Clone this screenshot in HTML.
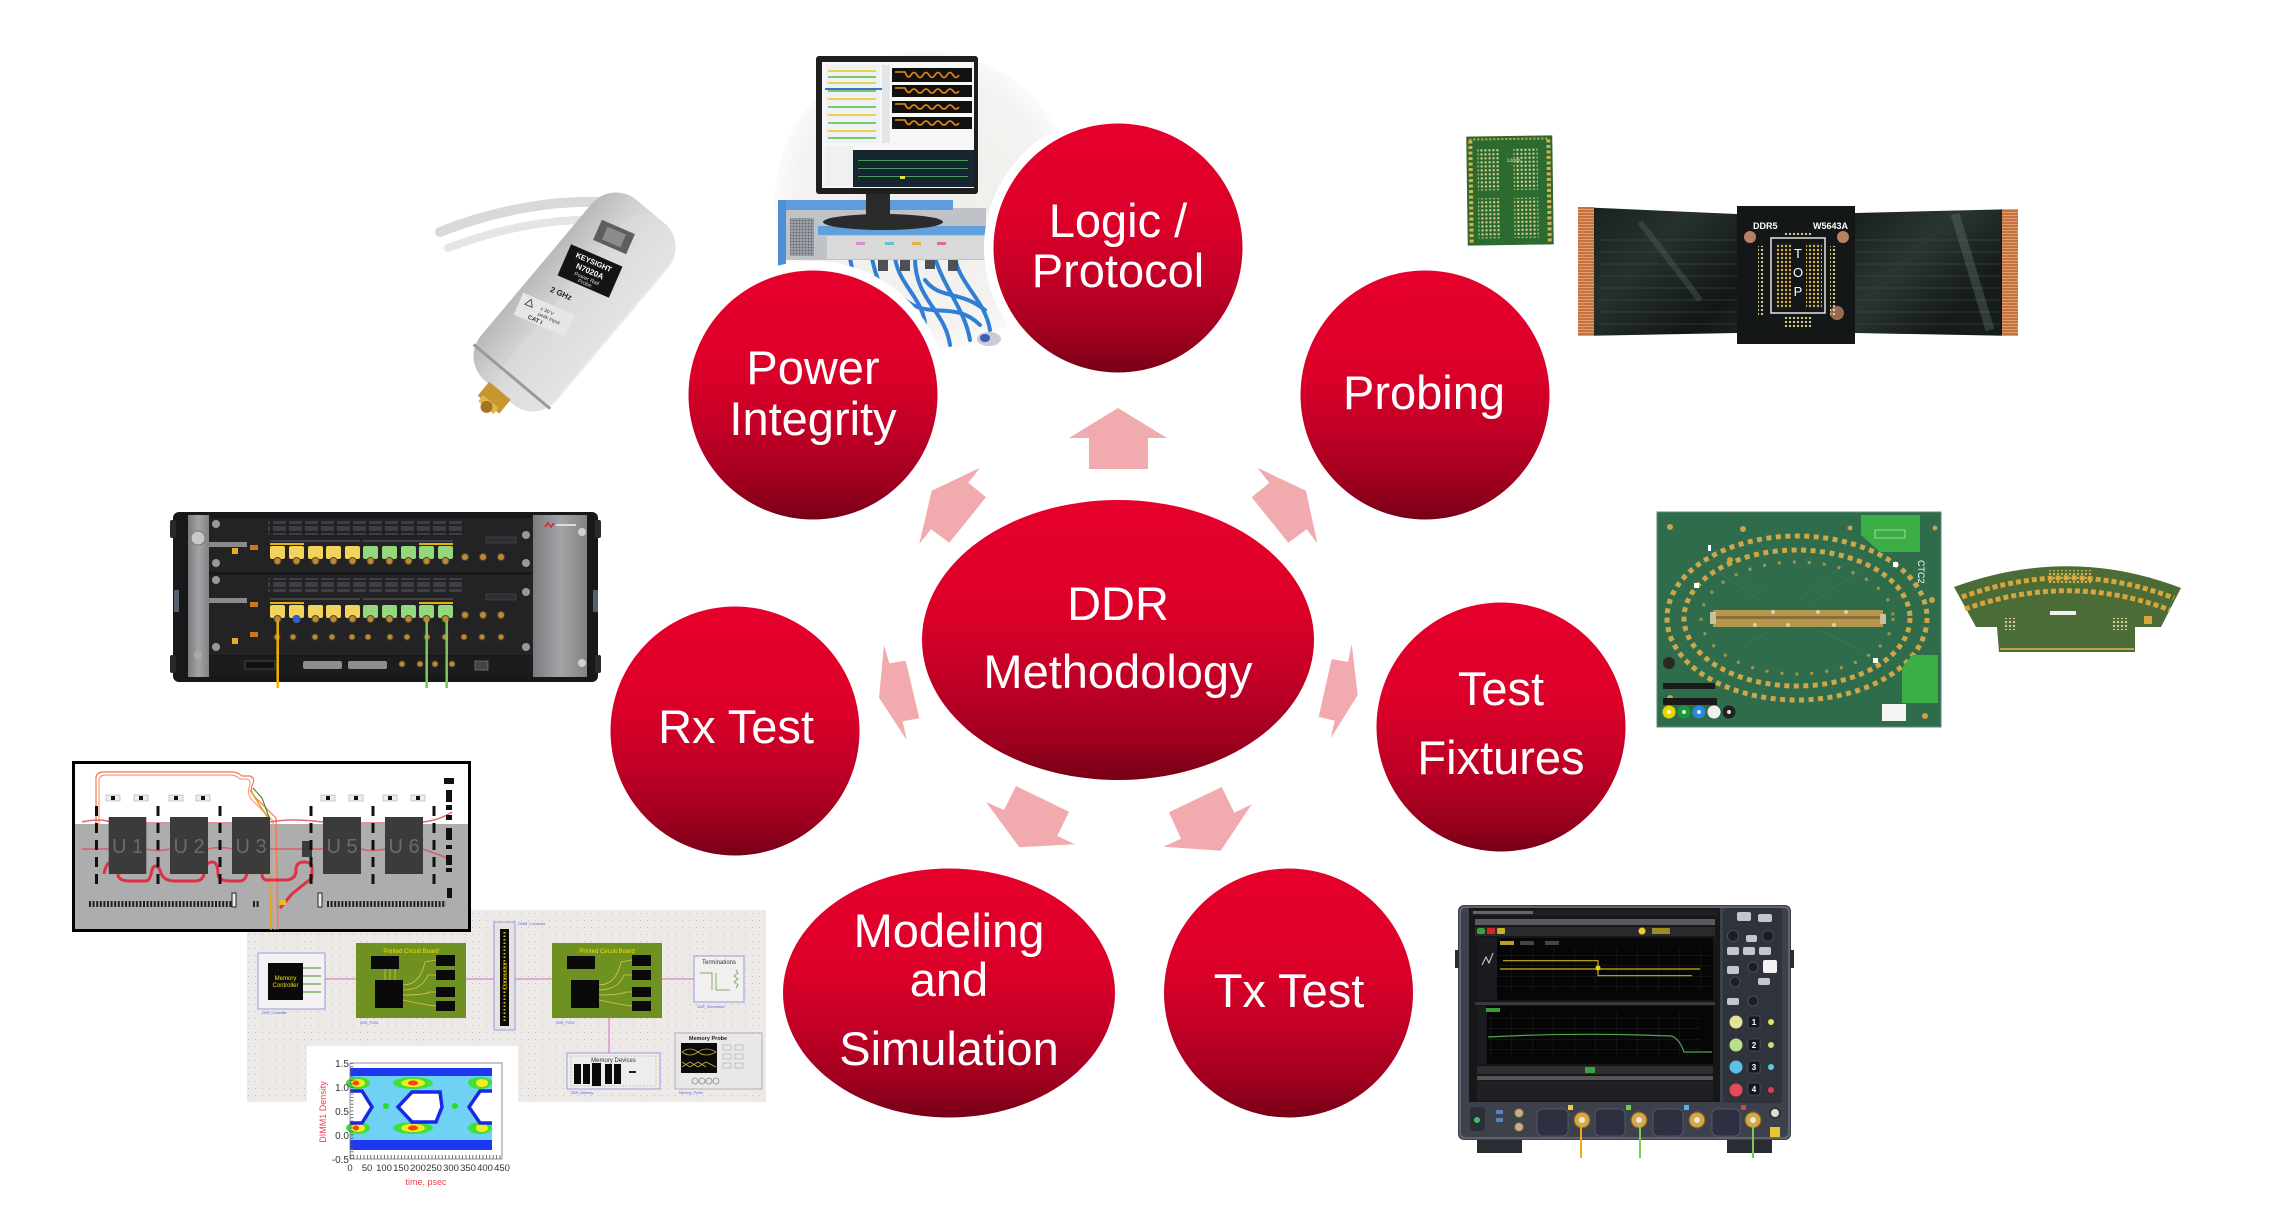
<!DOCTYPE html>
<html><head><meta charset="utf-8">
<style>
html,body{margin:0;padding:0;background:#fff;}
svg{display:block;}
.t{font-family:"Liberation Sans",Arial,sans-serif;fill:#fff;font-size:47px;text-anchor:middle;}
.s{font-family:"Liberation Sans",Arial,sans-serif;}
</style></head><body>
<svg width="2285" height="1224" viewBox="0 0 2285 1224" xmlns="http://www.w3.org/2000/svg">
<defs>
<linearGradient id="rg" x1="0" y1="0" x2="0" y2="1">
<stop offset="0" stop-color="#e6002c"/>
<stop offset="0.4" stop-color="#dc0029"/>
<stop offset="0.65" stop-color="#c00026"/>
<stop offset="0.85" stop-color="#a0001f"/>
<stop offset="1" stop-color="#770016"/>
</linearGradient>
<radialGradient id="lag" cx="0.5" cy="0.5" r="0.5">
<stop offset="0" stop-color="#efedea"/>
<stop offset="0.85" stop-color="#f5f3f1"/>
<stop offset="1" stop-color="#fbfaf9"/>
</radialGradient>
<linearGradient id="pb" x1="0" y1="0" x2="1" y2="0">
<stop offset="0" stop-color="#b9b9b9"/>
<stop offset="0.3" stop-color="#cfcfcf"/>
<stop offset="0.6" stop-color="#dedede"/>
<stop offset="1" stop-color="#ececec"/>
</linearGradient>
<linearGradient id="flex" x1="0" y1="0" x2="1" y2="0.3">
<stop offset="0" stop-color="#18201d"/>
<stop offset="0.25" stop-color="#26302c"/>
<stop offset="0.5" stop-color="#121715"/>
<stop offset="0.8" stop-color="#2a3531"/>
<stop offset="1" stop-color="#161c19"/>
</linearGradient>
<linearGradient id="silver" x1="0" y1="0" x2="1" y2="0">
<stop offset="0" stop-color="#7b7b7e"/>
<stop offset="0.5" stop-color="#a4a4a7"/>
<stop offset="1" stop-color="#838386"/>
</linearGradient>
<pattern id="gd" width="4" height="4" patternUnits="userSpaceOnUse"><circle cx="2" cy="2" r="1.15" fill="#e2d496"/></pattern>
<pattern id="gd3" width="4" height="4" patternUnits="userSpaceOnUse"><circle cx="2" cy="2" r="1.2" fill="#d8b24a"/></pattern>
<pattern id="dotg" width="7" height="7" patternUnits="userSpaceOnUse"><circle cx="3.5" cy="3.5" r="0.6" fill="#c6c2c2"/></pattern>
<pattern id="vent" width="3" height="3" patternUnits="userSpaceOnUse"><rect width="3" height="3" fill="#9a9ea4"/><circle cx="1.5" cy="1.5" r="0.8" fill="#5a5e64"/></pattern>
<pattern id="sg" width="21" height="10.5" patternUnits="userSpaceOnUse"><path d="M21 0V10.5H0" fill="none" stroke="#2a2a2a" stroke-width="0.7"/></pattern>
<pattern id="orng" width="2" height="3" patternUnits="userSpaceOnUse"><rect width="2" height="3" fill="#c4733e"/><rect y="2" width="2" height="1" fill="#e0a070"/></pattern>
<pattern id="btn" width="16" height="7" patternUnits="userSpaceOnUse"><rect x="1" y="1" width="13" height="5" rx="1" fill="#3e3e44"/></pattern>
</defs>

<!-- ============ LOGIC ANALYZER PHOTO ============ -->
<g>
<circle cx="925" cy="201" r="150" fill="url(#lag)"/>
<!-- cables -->
<g fill="none" stroke="#2f7fd4" stroke-width="4" stroke-linecap="round">
<path d="M850 258 C855 290 870 300 880 330"/>
<path d="M872 258 C880 300 900 310 905 345"/>
<path d="M895 258 C900 290 930 300 925 340"/>
<path d="M915 258 C915 300 945 310 950 345"/>
<path d="M935 258 C945 290 965 310 970 340"/>
<path d="M955 258 C960 285 985 300 990 330"/>
<path d="M905 300 C930 320 955 300 980 325"/>
<path d="M925 280 C940 300 960 290 985 310"/>
</g>
<g fill="#4d5056"><rect x="900" y="255" width="10" height="16"/><rect x="925" y="253" width="10" height="16"/><rect x="948" y="255" width="10" height="16"/><rect x="878" y="257" width="10" height="14"/></g>
<ellipse cx="989" cy="339" rx="12" ry="7" fill="#c9ccd4"/><ellipse cx="985" cy="338" rx="5" ry="4" fill="#3a5fb0"/>
<!-- chassis -->
<rect x="778" y="208" width="208" height="52" fill="#bfc2c6"/>
<rect x="790" y="218" width="24" height="38" fill="url(#vent)"/>
<rect x="778" y="200" width="175" height="10" fill="#5f9cdb"/>
<rect x="778" y="200" width="8" height="66" fill="#4f8fd4"/>
<rect x="818" y="226" width="168" height="9" fill="#62a0dd"/>
<rect x="827" y="236" width="160" height="23" fill="#d9d9d9"/>
<rect x="856" y="242" width="9" height="3" fill="#d68ad0"/><rect x="885" y="242" width="9" height="3" fill="#59c6d8"/><rect x="912" y="242" width="9" height="3" fill="#e8b040"/><rect x="937" y="242" width="9" height="3" fill="#e07080"/>
<!-- monitor -->
<ellipse cx="883" cy="222" rx="60" ry="8" fill="#2b2b2b"/>
<rect x="866" y="190" width="24" height="28" fill="#2a2a2a"/>
<rect x="816" y="56" width="162" height="138" rx="3" fill="#1e1e1e"/>
<rect x="822" y="62" width="152" height="126" fill="#f7f7f7"/>
<g>
<rect x="825" y="65" width="55" height="78" fill="#eef2f4"/>
<g fill="#e9d34a"><rect x="828" y="70" width="48" height="2"/><rect x="828" y="82" width="48" height="2"/><rect x="828" y="98" width="48" height="2"/><rect x="828" y="114" width="48" height="2"/><rect x="828" y="130" width="48" height="2"/></g>
<g fill="#7cc86c"><rect x="828" y="76" width="48" height="2"/><rect x="828" y="90" width="48" height="2"/><rect x="828" y="106" width="48" height="2"/><rect x="828" y="122" width="48" height="2"/><rect x="828" y="137" width="48" height="2"/></g>
<rect x="825" y="88" width="57" height="2" fill="#3a70d0"/>
<rect x="882" y="65" width="8" height="78" fill="#e4e7ea"/>
<g fill="#111"><rect x="892" y="68" width="80" height="14"/><rect x="892" y="85" width="80" height="12"/><rect x="892" y="101" width="80" height="12"/><rect x="892" y="117" width="80" height="12"/></g>
<g fill="none" stroke="#f08a1c" stroke-width="1.6">
<path d="M895 72 L905 72 Q908 80 911 75 T917 75 T923 75 T929 75 T935 75 T941 75 T947 75 T953 75 T959 75"/>
<path d="M895 88 L905 88 Q908 95 911 91 T917 91 T923 91 T929 91 T935 91 T941 91 T947 91 T953 91 T959 91"/>
<path d="M895 104 L905 104 Q908 111 911 107 T917 107 T923 107 T929 107 T935 107 T941 107 T947 107 T953 107 T959 107"/>
<path d="M895 120 L905 120 Q908 127 911 123 T917 123 T923 123 T929 123 T935 123 T941 123 T947 123 T953 123 T959 123"/>
</g>
<rect x="825" y="146" width="28" height="40" fill="#eef0f2"/>
<rect x="853" y="150" width="121" height="37" fill="#162630"/>
<g fill="#4a9a5a"><rect x="858" y="160" width="110" height="1"/><rect x="858" y="168" width="110" height="1"/><rect x="858" y="176" width="110" height="1"/></g>
<rect x="900" y="176" width="5" height="3" fill="#e8e040"/>
</g>
</g>

<!-- ============ POWER PROBE ============ -->
<g>
<path d="M440 232 C490 212 560 196 622 204" fill="none" stroke="#d2d2d2" stroke-width="10" stroke-linecap="round" opacity="0.85"/>
<path d="M448 248 C500 228 565 214 626 222" fill="none" stroke="#dedede" stroke-width="8" stroke-linecap="round" opacity="0.8"/>
<g transform="translate(572,305) rotate(40)">
<rect x="-50" y="-122" width="100" height="236" rx="32" fill="url(#pb)"/>
<rect x="-14" y="-122" width="62" height="236" rx="28" fill="#dcdcdc" opacity="0.55"/>
<rect x="-50" y="92" width="100" height="3" fill="#9a9a9a"/>
<rect x="-14" y="112" width="28" height="18" fill="#c9952e"/>
<rect x="-10" y="126" width="20" height="8" fill="#e0b450"/>
<circle cx="0" cy="133" r="6" fill="#a47420"/>
</g>
<g transform="translate(614,237) rotate(23.5)">
<rect x="-18" y="-11" width="36" height="22" fill="#5e5e5e"/>
<rect x="-10" y="-7" width="20" height="14" fill="#8c8c8c"/>
</g>
<g transform="translate(590,271) rotate(23.5)">
<rect x="-28" y="-17" width="56" height="34" fill="#141414"/>
<text class="s" x="0" y="-7" font-size="7.5" fill="#fff" text-anchor="middle" font-weight="bold">KEYSIGHT</text>
<text class="s" x="0" y="3" font-size="8" fill="#fff" text-anchor="middle" font-weight="bold">N7020A</text>
<text class="s" x="0" y="10" font-size="5.5" fill="#ddd" text-anchor="middle">Power Rail</text>
<text class="s" x="0" y="15" font-size="5.5" fill="#ddd" text-anchor="middle">Probe</text>
</g>
<g transform="translate(560,296) rotate(23.5)">
<text class="s" x="0" y="0" font-size="8" fill="#222" text-anchor="middle" font-weight="bold">2 GHz</text>
</g>
<g transform="translate(545,313) rotate(23.5)">
<rect x="-28" y="-10" width="56" height="24" fill="#e6e6e6"/>
<text class="s" x="-6" y="-1" font-size="5" fill="#333">± 30 V</text>
<text class="s" x="-6" y="5" font-size="5" fill="#333">peak Input</text>
<text class="s" x="-14" y="12" font-size="6" fill="#333" font-weight="bold">CAT I</text>
<path d="M-22 0 L-18 -7 L-14 0 Z" fill="none" stroke="#333" stroke-width="0.8"/>
</g>
</g>

<!-- ============ J-BERT CHASSIS ============ -->
<g>
<rect x="173" y="512" width="425" height="170" rx="6" fill="#18181b"/>
<rect x="170" y="520" width="6" height="18" rx="2" fill="#2a2a2e"/><rect x="170" y="655" width="6" height="18" rx="2" fill="#2a2a2e"/>
<rect x="595" y="520" width="6" height="18" rx="2" fill="#2a2a2e"/><rect x="595" y="655" width="6" height="18" rx="2" fill="#2a2a2e"/>
<rect x="174" y="590" width="5" height="22" fill="#55606e"/><rect x="593" y="590" width="5" height="22" fill="#55606e"/>
<rect x="188" y="515" width="21" height="162" fill="url(#silver)"/>
<circle cx="198" cy="538" r="7" fill="#c8c8c8" stroke="#777"/><circle cx="198" cy="655" r="4" fill="#aaa"/>
<rect x="533" y="515" width="54" height="162" fill="url(#silver)"/>
<path d="M545 527 l3 -4 l3 4 l3 -4" stroke="#e0202a" stroke-width="1.5" fill="none"/>
<rect x="556" y="524" width="20" height="2" fill="#ddd"/>
<circle cx="582" cy="532" r="4" fill="#d0d0d0"/><circle cx="582" cy="663" r="4" fill="#d0d0d0"/>
<rect x="209" y="518" width="324" height="54" fill="#232326"/>
<rect x="209" y="575" width="324" height="80" fill="#232326"/>
<rect x="209" y="657" width="324" height="18" fill="#1c1c1f"/>
<rect x="268" y="521" width="195" height="14" fill="url(#btn)"/>
<rect x="268" y="578" width="195" height="14" fill="url(#btn)"/>
<rect x="209" y="542" width="38" height="5" fill="#8a8a8a"/><rect x="209" y="598" width="38" height="5" fill="#8a8a8a"/>
<circle cx="216" cy="524" r="4" fill="#999"/><circle cx="216" cy="563" r="4" fill="#999"/><circle cx="216" cy="580" r="4" fill="#999"/><circle cx="216" cy="647" r="4" fill="#999"/>
<circle cx="526" cy="535" r="4" fill="#999"/><circle cx="526" cy="563" r="4" fill="#999"/><circle cx="526" cy="592" r="4" fill="#999"/><circle cx="526" cy="647" r="4" fill="#999"/>
<rect x="232" y="548" width="6" height="6" fill="#e8b020"/><rect x="232" y="638" width="6" height="6" fill="#e8b020"/>
<rect x="250" y="545" width="8" height="5" fill="#c87a1c"/><rect x="250" y="602" width="8" height="5" fill="#c87a1c"/><rect x="250" y="632" width="8" height="5" fill="#c87a1c"/>
<g stroke="#777" stroke-width="0.8"><line x1="270" y1="541" x2="360" y2="541"/><line x1="363" y1="541" x2="453" y2="541"/><line x1="270" y1="599" x2="360" y2="599"/><line x1="363" y1="599" x2="453" y2="599"/></g>
<g fill="#e2b300"><rect x="270" y="543" width="34" height="2"/><rect x="419" y="543" width="34" height="2"/><rect x="270" y="602" width="34" height="2"/><rect x="419" y="602" width="34" height="2"/></g>
<g fill="#f2d35c">
<rect x="270" y="546" width="15" height="13" rx="2"/><rect x="289" y="546" width="15" height="13" rx="2"/><rect x="308" y="546" width="15" height="13" rx="2"/><rect x="326" y="546" width="15" height="13" rx="2"/><rect x="345" y="546" width="15" height="13" rx="2"/>
<rect x="270" y="605" width="15" height="13" rx="2"/><rect x="289" y="605" width="15" height="13" rx="2"/><rect x="308" y="605" width="15" height="13" rx="2"/><rect x="326" y="605" width="15" height="13" rx="2"/><rect x="345" y="605" width="15" height="13" rx="2"/>
</g>
<g fill="#94d87e">
<rect x="363" y="546" width="15" height="13" rx="2"/><rect x="382" y="546" width="15" height="13" rx="2"/><rect x="401" y="546" width="15" height="13" rx="2"/><rect x="419" y="546" width="15" height="13" rx="2"/><rect x="438" y="546" width="15" height="13" rx="2"/>
<rect x="363" y="605" width="15" height="13" rx="2"/><rect x="382" y="605" width="15" height="13" rx="2"/><rect x="401" y="605" width="15" height="13" rx="2"/><rect x="419" y="605" width="15" height="13" rx="2"/><rect x="438" y="605" width="15" height="13" rx="2"/>
</g>
<g fill="#b98a3c" stroke="#5a4420" stroke-width="1">
<circle cx="277.5" cy="561" r="3.5"/><circle cx="296.5" cy="561" r="3.5"/><circle cx="315.5" cy="561" r="3.5"/><circle cx="333.5" cy="561" r="3.5"/><circle cx="352.5" cy="561" r="3.5"/><circle cx="370.5" cy="561" r="3.5"/><circle cx="389.5" cy="561" r="3.5"/><circle cx="408.5" cy="561" r="3.5"/><circle cx="426.5" cy="561" r="3.5"/><circle cx="445.5" cy="561" r="3.5"/>
<circle cx="465" cy="557" r="3.5"/><circle cx="483" cy="557" r="3.5"/><circle cx="501" cy="557" r="3.5"/>
<circle cx="277.5" cy="619" r="3.5"/><circle cx="296.5" cy="619" r="3.5"/><circle cx="315.5" cy="619" r="3.5"/><circle cx="333.5" cy="619" r="3.5"/><circle cx="352.5" cy="619" r="3.5"/><circle cx="370.5" cy="619" r="3.5"/><circle cx="389.5" cy="619" r="3.5"/><circle cx="408.5" cy="619" r="3.5"/><circle cx="426.5" cy="619" r="3.5"/><circle cx="445.5" cy="619" r="3.5"/>
<circle cx="465" cy="615" r="3.5"/><circle cx="483" cy="615" r="3.5"/><circle cx="501" cy="615" r="3.5"/>
<circle cx="277" cy="637" r="3"/><circle cx="293" cy="637" r="3"/><circle cx="315" cy="637" r="3"/><circle cx="332" cy="637" r="3"/><circle cx="352" cy="637" r="3"/><circle cx="368" cy="637" r="3"/><circle cx="390" cy="637" r="3"/><circle cx="407" cy="637" r="3"/><circle cx="427" cy="637" r="3"/><circle cx="445" cy="637" r="3"/><circle cx="464" cy="637" r="3"/><circle cx="482" cy="637" r="3"/><circle cx="501" cy="637" r="3"/>
<circle cx="402" cy="664" r="3"/><circle cx="420" cy="664" r="3"/><circle cx="435" cy="664" r="3"/><circle cx="452" cy="664" r="3"/>
</g>
<circle cx="296.5" cy="619" r="4" fill="#3060d0"/>
<rect x="486" y="537" width="30" height="6" fill="#2e2e32" stroke="#555" stroke-width="0.5"/><rect x="486" y="594" width="30" height="6" fill="#2e2e32" stroke="#555" stroke-width="0.5"/>
<rect x="245" y="661" width="30" height="8" fill="#111" stroke="#666" stroke-width="0.6"/>
<rect x="303" y="661" width="39" height="8" rx="2" fill="#8e8e8e"/><rect x="348" y="661" width="39" height="8" rx="2" fill="#8e8e8e"/>
<rect x="475" y="661" width="13" height="9" fill="#444" stroke="#888" stroke-width="0.6"/>
<line x1="277.7" y1="621" x2="277.7" y2="688" stroke="#f0b400" stroke-width="2.5"/>
<line x1="426.7" y1="621" x2="426.7" y2="688" stroke="#7cc85e" stroke-width="2.5"/>
<line x1="446.7" y1="621" x2="446.7" y2="688" stroke="#7cc85e" stroke-width="2.5"/>
</g>

<!-- ============ SMALL BGA INTERPOSER ============ -->
<g transform="rotate(-0.8 1510 190)">
<rect x="1467" y="136" width="86" height="109" fill="#2b6b30"/>
<line x1="1471" y1="140" x2="1471" y2="242" stroke="#d6b24a" stroke-width="4" stroke-dasharray="3 2.5"/>
<line x1="1549" y1="140" x2="1549" y2="242" stroke="#d6b24a" stroke-width="4" stroke-dasharray="3 2.5"/>
<line x1="1470" y1="139" x2="1550" y2="139" stroke="#c9a846" stroke-width="2" stroke-dasharray="2 2"/>
<rect x="1478" y="148" width="22" height="42" fill="url(#gd)"/>
<rect x="1478" y="198" width="22" height="40" fill="url(#gd)"/>
<rect x="1514" y="148" width="24" height="42" fill="url(#gd)"/>
<rect x="1514" y="198" width="24" height="40" fill="url(#gd)"/>
<text class="s" x="1507" y="162" font-size="5" fill="#d8e8c0">12mm</text>
</g>

<!-- ============ FLEX CABLE W5643A ============ -->
<g>
<path d="M1578 207 L1737 214 L1855 213 L2018 209 L2018 336 L1855 333 L1737 333 L1578 336 Z" fill="url(#flex)"/>
<g stroke="#3c4a44" stroke-width="0.8" fill="none" opacity="0.9">
<path d="M1600 240 H1737"/><path d="M1600 252 H1737"/><path d="M1600 264 H1737"/><path d="M1600 276 H1737"/><path d="M1600 288 H1737"/><path d="M1600 300 H1737"/><path d="M1600 312 H1737"/><path d="M1600 324 H1737"/>
<path d="M1855 240 H2000"/><path d="M1855 252 H2000"/><path d="M1855 264 H2000"/><path d="M1855 276 H2000"/><path d="M1855 288 H2000"/><path d="M1855 300 H2000"/><path d="M1855 312 H2000"/><path d="M1855 324 H2000"/>
</g>
<path d="M1640 222 L1700 300" stroke="#5a6a64" stroke-width="6" opacity="0.35"/>
<path d="M1955 214 L1990 330" stroke="#6a7a74" stroke-width="9" opacity="0.35"/>
<rect x="1578" y="207" width="16" height="129" fill="url(#orng)"/>
<rect x="2002" y="209" width="16" height="127" fill="url(#orng)"/>
<rect x="1737" y="206" width="118" height="138" fill="#141717"/>
<text class="s" x="1753" y="229" font-size="9" fill="#fff" font-weight="bold">DDR5</text>
<text class="s" x="1813" y="229" font-size="9" fill="#fff" font-weight="bold">W5643A</text>
<circle cx="1750" cy="237" r="6" fill="#b88060"/><circle cx="1843" cy="237" r="6" fill="#b88060"/><circle cx="1837" cy="313" r="7" fill="#9a6a52"/>
<rect x="1758" y="246" width="7" height="70" fill="url(#gd)"/>
<rect x="1830" y="246" width="7" height="70" fill="url(#gd)"/>
<rect x="1771" y="238" width="54" height="75" fill="none" stroke="#e4e4e4" stroke-width="1.5"/>
<rect x="1775" y="243" width="16" height="66" fill="url(#gd3)"/>
<rect x="1806" y="243" width="16" height="66" fill="url(#gd3)"/>
<text class="s" x="1798" y="258" font-size="13" fill="#fff" text-anchor="middle">T</text>
<text class="s" x="1798" y="277" font-size="13" fill="#fff" text-anchor="middle">O</text>
<text class="s" x="1798" y="296" font-size="13" fill="#fff" text-anchor="middle">P</text>
<rect x="1783" y="317" width="30" height="12" fill="url(#gd)"/>
<rect x="1783" y="231" width="30" height="6" fill="url(#gd)"/>
</g>

<!-- ============ BIG TEST FIXTURE BOARD ============ -->
<g>
<rect x="1657" y="512" width="284" height="215" fill="#2f6c4c"/>
<rect x="1657" y="512" width="284" height="215" fill="none" stroke="#5c8a72" stroke-width="1"/>
<g stroke="#3d7c5a" stroke-width="0.7" opacity="0.8">
<path d="M1700 560 L1760 600 M1710 555 L1770 595 M1850 560 L1800 600 M1860 570 L1810 605 M1740 650 L1770 630 M1860 650 L1820 630"/>
</g>
<ellipse cx="1797" cy="618" rx="130" ry="82" fill="none" stroke="#cfa648" stroke-width="5" stroke-dasharray="5 4.5"/>
<ellipse cx="1797" cy="618" rx="113" ry="68" fill="none" stroke="#cfa648" stroke-width="5" stroke-dasharray="5 4.5"/>
<ellipse cx="1797" cy="618" rx="96" ry="56" fill="none" stroke="#cfa648" stroke-width="3" stroke-dasharray="3 12" opacity="0.7"/>
<rect x="1713" y="610" width="170" height="17" fill="#b4964c"/>
<rect x="1716" y="616" width="164" height="3" fill="#8a7038"/>
<g fill="#d8d0a8"><circle cx="1773" cy="612" r="2"/><circle cx="1818" cy="612" r="2"/><circle cx="1846" cy="612" r="2"/><circle cx="1755" cy="625" r="2"/><circle cx="1788" cy="625" r="2"/><circle cx="1834" cy="625" r="2"/></g>
<rect x="1710" y="612" width="6" height="12" fill="#c8c0a0"/><rect x="1880" y="614" width="6" height="10" fill="#c8c0a0"/>
<path d="M1861 515 L1920 515 L1920 552 L1880 552 L1861 535 Z" fill="#3cae46"/>
<rect x="1875" y="530" width="30" height="8" fill="none" stroke="#bfe8c0" stroke-width="0.7"/>
<path d="M1912 655 L1938 655 L1938 703 L1902 703 L1902 668 Z" fill="#3cae46"/>
<g fill="#c9a24a"><circle cx="1670" cy="527" r="3"/><circle cx="1743" cy="529" r="3"/><circle cx="1850" cy="528" r="2.5"/><circle cx="1935" cy="528" r="2.5"/><circle cx="1670" cy="698" r="3"/><circle cx="1925" cy="716" r="3"/><circle cx="1730" cy="560" r="3"/><circle cx="1932" cy="600" r="3"/></g>
<rect x="1663" y="683" width="52" height="6" fill="#1a1a1a"/>
<rect x="1663" y="698" width="54" height="7" fill="#1a1a1a"/>
<circle cx="1669" cy="663" r="6" fill="#2a2a22"/>
<circle cx="1669" cy="712" r="6.5" fill="#e8d400"/><circle cx="1684" cy="712" r="6.5" fill="#1a9a3a"/><circle cx="1699" cy="712" r="6.5" fill="#2a8ad8"/><circle cx="1714" cy="712" r="6.5" fill="#f0f0f0"/><circle cx="1729" cy="712" r="6.5" fill="#222"/>
<g fill="#fff" opacity="0.85"><circle cx="1669" cy="712" r="2"/><circle cx="1684" cy="712" r="2"/><circle cx="1699" cy="712" r="2"/><circle cx="1729" cy="712" r="2"/></g>
<rect x="1882" y="704" width="24" height="17" fill="#f4f4f4"/>
<rect x="1708" y="545" width="3" height="6" fill="#fff"/><rect x="1694" y="583" width="5" height="5" fill="#fff"/><rect x="1893" y="562" width="5" height="5" fill="#fff"/><rect x="1873" y="658" width="5" height="5" fill="#fff"/>
<text class="s" x="1918" y="560" font-size="9" fill="#fff" transform="rotate(90 1918 560)">CTC2</text>
</g>

<!-- ============ SMALL FIXTURE ============ -->
<g>
<path d="M1954 587 Q2069 545 2181 588 L2161 627 L2135 627 L2135 652 L1999 652 L1997 627 L1976 627 Z" fill="#4b6c37"/>
<path d="M1962 597 Q2069 558 2174 598" fill="none" stroke="#d6a63c" stroke-width="5" stroke-dasharray="5 3"/>
<path d="M1965 609 Q2069 572 2170 610" fill="none" stroke="#d6a63c" stroke-width="5" stroke-dasharray="5 3"/>
<rect x="2048" y="570" width="44" height="14" fill="url(#gd3)"/>
<rect x="2050" y="611" width="26" height="4" fill="#f0f0f0"/>
<rect x="2003" y="618" width="14" height="12" fill="url(#gd)"/>
<rect x="2113" y="618" width="14" height="12" fill="url(#gd)"/>
<rect x="2144" y="616" width="8" height="8" fill="#d6a63c"/>
<line x1="2000" y1="649" x2="2134" y2="649" stroke="#c4a050" stroke-width="2"/>
</g>

<!-- ============ ADS SCHEMATIC ============ -->
<g class="s">
<rect x="247" y="910" width="519" height="192" fill="#ece9e7"/>
<rect x="247" y="910" width="519" height="192" fill="url(#dotg)"/>
<line x1="325" y1="979" x2="694" y2="979" stroke="#d46cb4" stroke-width="1"/>
<line x1="609" y1="1018" x2="609" y2="1053" stroke="#d46cb4" stroke-width="1"/>
<rect x="258" y="953" width="67" height="56" fill="#f3f1f1" stroke="#9a9ae0" stroke-width="1"/>
<rect x="268" y="963" width="35" height="37" fill="#0a0a0a"/>
<text x="285.5" y="980" font-size="6" fill="#f2e000" text-anchor="middle">Memory</text>
<text x="285.5" y="987" font-size="6" fill="#f2e000" text-anchor="middle">Controller</text>
<g stroke="#4a8a20" stroke-width="1"><line x1="303" y1="968" x2="321" y2="968"/><line x1="303" y1="976" x2="321" y2="976"/><line x1="303" y1="984" x2="321" y2="984"/><line x1="303" y1="992" x2="321" y2="992"/></g>
<rect x="356" y="943" width="110" height="75" fill="#6f9122"/>
<text x="411" y="953" font-size="6" fill="#f2e000" text-anchor="middle">Printed Circuit Board</text>
<rect x="371" y="956" width="28" height="13" fill="#0a0a0a"/>
<rect x="375" y="980" width="28" height="28" fill="#0a0a0a"/>
<g fill="#0a0a0a"><rect x="436" y="955" width="19" height="11"/><rect x="436" y="970" width="19" height="10"/><rect x="436" y="987" width="19" height="10"/><rect x="436" y="1001" width="19" height="10"/></g>
<g fill="none" stroke="#d8c840" stroke-width="0.8"><path d="M403 985 Q420 985 425 962 L436 960"/><path d="M403 990 Q422 990 428 975 L436 975"/><path d="M403 995 Q424 995 430 992 L436 992"/><path d="M403 1000 Q426 1005 436 1006"/><path d="M385 969 L385 980 M390 969 L390 980 M395 969 L395 980"/></g>
<rect x="494" y="922" width="21" height="108" fill="#e4e2e2" stroke="#9a9ae0" stroke-width="1"/>
<rect x="500" y="929" width="9" height="97" fill="#0a0a0a"/>
<line x1="504.5" y1="932" x2="504.5" y2="1023" stroke="#d8c000" stroke-width="2" stroke-dasharray="1.5 2"/>
<text x="507" y="976" font-size="6" fill="#d8c000" text-anchor="middle" transform="rotate(-90 507 976)">Connector</text>
<text x="518" y="925" font-size="3.5" fill="#6060e0">DIMM_Connector</text>
<rect x="552" y="943" width="110" height="75" fill="#6f9122"/>
<text x="607" y="953" font-size="6" fill="#f2e000" text-anchor="middle">Printed Circuit Board</text>
<rect x="567" y="956" width="28" height="13" fill="#0a0a0a"/>
<rect x="571" y="980" width="28" height="28" fill="#0a0a0a"/>
<g fill="#0a0a0a"><rect x="632" y="955" width="19" height="11"/><rect x="632" y="970" width="19" height="10"/><rect x="632" y="987" width="19" height="10"/><rect x="632" y="1001" width="19" height="10"/></g>
<g fill="none" stroke="#d8c840" stroke-width="0.8"><path d="M599 985 Q616 985 621 962 L632 960"/><path d="M599 990 Q618 990 624 975 L632 975"/><path d="M599 995 Q620 995 626 992 L632 992"/><path d="M599 1000 Q622 1005 632 1006"/></g>
<rect x="694" y="956" width="50" height="46" fill="#f1efef" stroke="#9a9ae0" stroke-width="1"/>
<text x="719" y="964" font-size="6" fill="#333" text-anchor="middle">Terminations</text>
<path d="M700 973 H712 V990 M716 973 V990 H730 M736 970 l2 3 -4 3 4 3 -4 3 4 3 -2 3" fill="none" stroke="#5a9a30" stroke-width="0.7"/>
<rect x="567" y="1053" width="93" height="36" fill="#eeeced" stroke="#9a9ae0" stroke-width="1"/>
<rect x="571" y="1056" width="85" height="30" fill="none" stroke="#b0b060" stroke-width="0.6" stroke-dasharray="2 1.5"/>
<text x="613.5" y="1062" font-size="6" fill="#333" text-anchor="middle">Memory Devices</text>
<g fill="#0a0a0a"><rect x="574" y="1064" width="7" height="20"/><rect x="583" y="1064" width="7" height="20"/><rect x="592" y="1063" width="9" height="23"/><rect x="605" y="1064" width="7" height="20"/><rect x="614" y="1064" width="7" height="20"/></g>
<rect x="629" y="1071" width="7" height="2" fill="#222"/>
<rect x="675" y="1033" width="87" height="56" fill="#e9e7e7" stroke="#b0b0b0" stroke-width="1"/>
<text x="708" y="1040" font-size="5.5" fill="#222" text-anchor="middle" font-weight="bold">Memory Probe</text>
<rect x="681" y="1043" width="36" height="30" fill="#0a0a0a"/>
<path d="M682 1052 Q690 1046 698 1052 T716 1052 M682 1052 Q690 1058 698 1052 T716 1052 M682 1067 L690 1062 L698 1067 L706 1062 L716 1067 M682 1062 L690 1067 L698 1062 L706 1067" fill="none" stroke="#c8b040" stroke-width="0.8"/>
<g fill="none" stroke="#aaa" stroke-width="0.6"><rect x="723" y="1045" width="8" height="5"/><rect x="735" y="1045" width="8" height="5"/><rect x="723" y="1054" width="8" height="5"/><rect x="735" y="1054" width="8" height="5"/><rect x="723" y="1063" width="8" height="5"/><rect x="735" y="1063" width="8" height="5"/></g>
<g fill="none" stroke="#888" stroke-width="0.8"><circle cx="695" cy="1081" r="3"/><circle cx="702" cy="1081" r="3"/><circle cx="709" cy="1081" r="3"/><circle cx="716" cy="1081" r="3"/></g>
<text x="262" y="1014" font-size="3.5" fill="#6060e0">DDR_Controller</text>
<text x="360" y="1024" font-size="3.5" fill="#6060e0">DDR_PCB1</text>
<text x="556" y="1024" font-size="3.5" fill="#6060e0">DDR_PCB2</text>
<text x="697" y="1008" font-size="3.5" fill="#6060e0">DDR_Termination</text>
<text x="571" y="1094" font-size="3.5" fill="#6060e0">DDR_Memory</text>
<text x="679" y="1094" font-size="3.5" fill="#6060e0">Memory_Probe</text>
</g>

<!-- ============ PCB LAYOUT ============ -->
<g>
<rect x="73.5" y="762.5" width="396" height="168" fill="#fff" stroke="#000" stroke-width="3"/>
<rect x="75" y="824" width="393" height="105" fill="#adadad"/>
<g fill="none" stroke-width="1.2">
<path d="M96 830 V778 Q96 772 104 772 H232 Q238 772 242 776 H250 Q256 778 252 786 Q250 792 256 798 L276 818 L278 930" stroke="#f07850"/>
<path d="M99 830 V781 Q99 775 106 775 H230 Q236 775 240 779 H247 Q252 781 249 788 Q247 795 253 801 L273 821 L275 930" stroke="#f0a080"/>
<path d="M250 790 L268 818 L271 930" stroke="#e8a020" stroke-width="1.5"/>
<path d="M253 788 L262 798 L270 820" stroke="#4a8a4a"/>
</g>
<g fill="none" stroke="#e05060" stroke-width="1.5" opacity="0.85">
<path d="M82 849 H110 M146 849 Q160 852 170 849 M208 849 Q220 846 232 849 M270 849 H302 M312 849 H323 M361 849 Q372 852 385 849 M423 849 Q440 855 452 860"/>
<path d="M82 822 Q100 818 110 822 M146 823 H170 M208 823 H232 M270 822 Q290 818 323 822 M361 823 H385 M423 822 Q440 820 452 812"/>
</g>
<g fill="none" stroke="#e03048" stroke-width="3">
<path d="M104 874 Q106 862 112 862 Q118 862 118 874 Q118 881 130 881 H146 Q150 881 152 870 Q155 862 160 870 Q162 881 175 881 H195 Q204 881 204 872 Q206 862 212 862 Q218 862 218 874 Q218 881 230 881 H240 Q246 881 248 870 Q250 862 256 862 Q262 862 262 874 Q262 881 270 880 L285 880 Q296 880 296 870 Q296 862 304 862 Q312 862 312 868 L312 878 Q304 884 292 894 L280 908"/>
</g>
<g fill="#3b3b3b">
<rect x="108.7" y="817" width="37.6" height="57"/><rect x="170" y="817" width="38" height="57"/><rect x="232" y="817" width="38" height="57"/><rect x="323" y="817" width="38" height="57"/><rect x="385" y="817" width="38" height="57"/>
<rect x="302" y="841" width="10" height="16"/>
</g>
<g class="s" font-size="20" fill="#6b6b6b" text-anchor="middle">
<text x="127.5" y="853">U 1</text><text x="189" y="853">U 2</text><text x="251" y="853">U 3</text><text x="342" y="853">U 5</text><text x="404" y="853">U 6</text>
</g>
<g stroke="#111" stroke-width="3" stroke-dasharray="10 7">
<line x1="96.5" y1="806" x2="96.5" y2="885"/><line x1="158" y1="806" x2="158" y2="885"/><line x1="220" y1="806" x2="220" y2="885"/><line x1="311" y1="806" x2="311" y2="885"/><line x1="373" y1="806" x2="373" y2="885"/><line x1="434" y1="806" x2="434" y2="885"/>
</g>
<g>
<rect x="106" y="795" width="14" height="6" fill="#eee" stroke="#999" stroke-width="0.5"/><rect x="134" y="795" width="14" height="6" fill="#eee" stroke="#999" stroke-width="0.5"/><rect x="169" y="795" width="14" height="6" fill="#eee" stroke="#999" stroke-width="0.5"/><rect x="196" y="795" width="14" height="6" fill="#eee" stroke="#999" stroke-width="0.5"/>
<rect x="321" y="795" width="14" height="6" fill="#eee" stroke="#999" stroke-width="0.5"/><rect x="349" y="795" width="14" height="6" fill="#eee" stroke="#999" stroke-width="0.5"/><rect x="383" y="795" width="14" height="6" fill="#eee" stroke="#999" stroke-width="0.5"/><rect x="411" y="795" width="14" height="6" fill="#eee" stroke="#999" stroke-width="0.5"/>
<g fill="#111"><rect x="111" y="796" width="4" height="4"/><rect x="139" y="796" width="4" height="4"/><rect x="174" y="796" width="4" height="4"/><rect x="201" y="796" width="4" height="4"/><rect x="326" y="796" width="4" height="4"/><rect x="354" y="796" width="4" height="4"/><rect x="388" y="796" width="4" height="4"/><rect x="416" y="796" width="4" height="4"/></g>
</g>
<g fill="#111"><rect x="444" y="778" width="10" height="6"/><rect x="446" y="790" width="6" height="12"/><rect x="446" y="805" width="6" height="5"/><rect x="446" y="815" width="6" height="5"/><rect x="446" y="828" width="6" height="12"/><rect x="446" y="845" width="6" height="4"/><rect x="446" y="855" width="6" height="10"/><rect x="446" y="868" width="6" height="4"/><rect x="447" y="888" width="5" height="10"/></g>
<line x1="89" y1="904" x2="232" y2="904" stroke="#222" stroke-width="6" stroke-dasharray="2 1.6"/>
<line x1="253" y1="904" x2="260" y2="904" stroke="#222" stroke-width="6" stroke-dasharray="2 1.6"/>
<line x1="327" y1="904" x2="446" y2="904" stroke="#222" stroke-width="6" stroke-dasharray="2 1.6"/>
<rect x="232" y="893" width="4" height="14" fill="#eee" stroke="#222" stroke-width="1"/><rect x="318" y="893" width="4" height="14" fill="#eee" stroke="#222" stroke-width="1"/>
<rect x="280" y="900" width="6" height="5" fill="#e8c020"/>
</g>

<!-- ============ EYE DIAGRAM ============ -->
<g class="s">
<rect x="307" y="1046" width="211" height="141" fill="#fff"/>
<rect x="350" y="1068" width="142" height="82" fill="#1d38ee"/>
<rect x="350" y="1076" width="142" height="64" fill="#6fd2f4"/>
<g>
<ellipse cx="358" cy="1083" rx="12" ry="6" fill="#3ee03a"/><ellipse cx="358" cy="1083" rx="7" ry="4" fill="#f2ec20"/><ellipse cx="356" cy="1083" rx="3" ry="2.5" fill="#ff4010"/>
<ellipse cx="413" cy="1083" rx="20" ry="6" fill="#3ee03a"/><ellipse cx="413" cy="1083" rx="12" ry="4" fill="#f2ec20"/><ellipse cx="413" cy="1083" rx="5" ry="2.5" fill="#ff4010"/>
<ellipse cx="480" cy="1083" rx="12" ry="6" fill="#3ee03a"/><ellipse cx="482" cy="1083" rx="6" ry="4" fill="#f2ec20"/>
<ellipse cx="358" cy="1128" rx="12" ry="6" fill="#3ee03a"/><ellipse cx="358" cy="1128" rx="7" ry="4" fill="#f2ec20"/><ellipse cx="356" cy="1128" rx="3" ry="2.5" fill="#ff4010"/>
<ellipse cx="413" cy="1128" rx="20" ry="6" fill="#3ee03a"/><ellipse cx="413" cy="1128" rx="12" ry="4" fill="#f2ec20"/><ellipse cx="413" cy="1128" rx="5" ry="2.5" fill="#ff4010"/>
<ellipse cx="480" cy="1128" rx="12" ry="6" fill="#3ee03a"/><ellipse cx="482" cy="1128" rx="6" ry="4" fill="#f2ec20"/>
</g>
<path d="M398 1107 L412 1092 L440 1092 L442 1107 L436 1122 L412 1122 Z" fill="#fff" stroke="#1a28e6" stroke-width="3.5"/>
<path d="M350 1091 L362 1091 L372 1107 L362 1123 L350 1123" fill="#fff" stroke="#1a28e6" stroke-width="3.5"/>
<path d="M492 1091 L480 1091 L469 1107 L480 1123 L492 1123" fill="#fff" stroke="#1a28e6" stroke-width="3.5"/>
<circle cx="386" cy="1106" r="3" fill="#22e022"/><circle cx="455" cy="1106" r="3" fill="#22e022"/>
<rect x="350" y="1063" width="152" height="96" fill="none" stroke="#777" stroke-width="0.8"/>
<line x1="350" y1="1157" x2="502" y2="1157" stroke="#555" stroke-width="4" stroke-dasharray="0.8 2.6"/>
<line x1="352" y1="1063" x2="352" y2="1159" stroke="#555" stroke-width="3" stroke-dasharray="0.8 2.6"/>
<g font-size="10" fill="#333" text-anchor="end">
<text x="349" y="1067">1.5</text><text x="349" y="1091">1.0</text><text x="349" y="1115">0.5</text><text x="349" y="1139">0.0</text><text x="349" y="1163">-0.5</text>
</g>
<g font-size="9.5" fill="#333" text-anchor="middle">
<text x="350" y="1171">0</text><text x="367" y="1171">50</text><text x="384" y="1171">100</text><text x="401" y="1171">150</text><text x="418" y="1171">200</text><text x="434" y="1171">250</text><text x="451" y="1171">300</text><text x="468" y="1171">350</text><text x="485" y="1171">400</text><text x="502" y="1171">450</text>
</g>
<text x="426" y="1185" font-size="9" fill="#f04050" text-anchor="middle">time, psec</text>
<text x="326" y="1112" font-size="9" fill="#f04050" text-anchor="middle" transform="rotate(-90 326 1112)">DIMM1 Density</text>
</g>

<!-- ============ OSCILLOSCOPE ============ -->
<g class="s">
<rect x="1477" y="1136" width="45" height="17" fill="#2a2c32"/><rect x="1727" y="1136" width="45" height="17" fill="#2a2c32"/>
<rect x="1458" y="905" width="333" height="235" rx="6" fill="#3d414c"/>
<rect x="1460" y="907" width="329" height="231" rx="5" fill="none" stroke="#6a6f7a" stroke-width="1.5"/>
<rect x="1455" y="950" width="4" height="18" fill="#2a2c30"/><rect x="1790" y="950" width="4" height="18" fill="#2a2c30"/>
<rect x="1469" y="908" width="251" height="194" fill="#17171a"/>
<rect x="1471" y="910" width="247" height="6" fill="#1e1e22"/>
<rect x="1473" y="911" width="60" height="3" fill="#666"/>
<rect x="1475" y="919" width="240" height="6" fill="#5a5a60"/>
<rect x="1475" y="927" width="240" height="9" fill="#2a2a2e"/>
<rect x="1477" y="928" width="8" height="6" rx="2" fill="#3aa040"/><rect x="1487" y="928" width="8" height="6" rx="1" fill="#d02828"/><rect x="1497" y="928" width="8" height="6" rx="1" fill="#c8b030"/>
<circle cx="1642" cy="931" r="3.5" fill="#e8d020"/><rect x="1652" y="928" width="18" height="6" fill="#e8d020" opacity="0.6"/>
<rect x="1477" y="938" width="236" height="62" fill="#060606"/>
<rect x="1477" y="938" width="20" height="62" fill="#1c1c20"/>
<path d="M1482 965 l4 -8 l3 6 l4 -10" fill="none" stroke="#d8d8d8" stroke-width="1"/>
<rect x="1498" y="948" width="212" height="42" fill="url(#sg)"/>
<rect x="1500" y="941" width="14" height="4" fill="#b8a020"/><rect x="1520" y="941" width="14" height="4" fill="#444"/><rect x="1545" y="941" width="14" height="4" fill="#444"/>
<g fill="none" stroke="#c9b21c" stroke-width="1.2">
<path d="M1503 960.7 H1598 V975.7 H1692"/>
<path d="M1500 969 H1700"/>
</g>
<circle cx="1598" cy="968" r="2.5" fill="#e8d020"/>
<rect x="1475" y="1002" width="240" height="3" fill="#3a3a3e"/>
<rect x="1477" y="1006" width="236" height="58" fill="#060606"/>
<rect x="1477" y="1006" width="10" height="58" fill="#1c1c20"/>
<rect x="1488" y="1013" width="212" height="42" fill="url(#sg)"/>
<rect x="1486" y="1008" width="14" height="4" fill="#3a9a3a"/>
<path d="M1488 1037 Q1560 1033 1640 1035 L1672 1036 Q1680 1040 1684 1052 H1712" fill="none" stroke="#4ea84e" stroke-width="1.2"/>
<rect x="1477" y="1066" width="236" height="8" fill="#2e2e32"/>
<rect x="1585" y="1067" width="10" height="6" fill="#3aa040"/>
<rect x="1477" y="1076" width="236" height="4" fill="#555"/>
<rect x="1477" y="1081" width="236" height="20" fill="#202024"/>
<rect x="1723" y="908" width="59" height="195" rx="3" fill="#2f333c"/>
<g fill="#c4c6cc">
<rect x="1737" y="912" width="14" height="9" rx="2"/><rect x="1758" y="914" width="14" height="8" rx="2"/>
<rect x="1746" y="935" width="11" height="7" rx="2"/>
<rect x="1727" y="947" width="12" height="8" rx="2"/><rect x="1743" y="947" width="12" height="8" rx="2"/><rect x="1759" y="947" width="12" height="8" rx="2"/>
<rect x="1727" y="966" width="12" height="8" rx="2"/><rect x="1758" y="978" width="12" height="7" rx="2"/>
<rect x="1727" y="998" width="12" height="7" rx="2"/>
</g>
<rect x="1763" y="960" width="14" height="13" rx="2" fill="#f2f2f2"/>
<g fill="#1c1e24" stroke="#555" stroke-width="0.8"><circle cx="1733" cy="936" r="5.5"/><circle cx="1768" cy="936" r="5.5"/><circle cx="1753" cy="967" r="5"/><circle cx="1735" cy="982" r="5"/><circle cx="1753" cy="1001" r="5"/></g>
<circle cx="1736" cy="1022" r="6.5" fill="#e6e29a"/><circle cx="1736" cy="1045" r="6.5" fill="#b8e08a"/><circle cx="1736" cy="1067" r="6.5" fill="#5ac0e8"/><circle cx="1736" cy="1090" r="6.5" fill="#e84a5a"/>
<g fill="#15171c" stroke="#666" stroke-width="0.6"><rect x="1748" y="1016" width="12" height="12" rx="2"/><rect x="1748" y="1039" width="12" height="12" rx="2"/><rect x="1748" y="1061" width="12" height="12" rx="2"/><rect x="1748" y="1083" width="12" height="12" rx="2"/></g>
<g font-size="8" fill="#fff" text-anchor="middle" font-weight="bold"><text x="1754" y="1025">1</text><text x="1754" y="1048">2</text><text x="1754" y="1070">3</text><text x="1754" y="1092">4</text></g>
<circle cx="1771" cy="1022" r="3" fill="#e8e060"/><circle cx="1771" cy="1045" r="3" fill="#c8e070"/><circle cx="1771" cy="1067" r="3" fill="#5ac8e8"/><circle cx="1771" cy="1090" r="3" fill="#e04050"/>
<rect x="1470" y="1107" width="15" height="24" rx="4" fill="#2a2e36"/><circle cx="1477" cy="1120" r="3" fill="#40c060"/>
<g fill="#2c3040" stroke="#5a6070" stroke-width="0.8"><rect x="1537" y="1109" width="31" height="27" rx="5"/><rect x="1595" y="1109" width="30" height="27" rx="5"/><rect x="1653" y="1109" width="30" height="27" rx="5"/><rect x="1712" y="1109" width="28" height="27" rx="5"/></g>
<g fill="#5a80c8"><rect x="1496" y="1110" width="7" height="4"/><rect x="1496" y="1118" width="7" height="4"/></g>
<g fill="#c8b080" stroke="#6a5a40" stroke-width="1"><circle cx="1519" cy="1113" r="4.5"/><circle cx="1519" cy="1127" r="4.5"/></g>
<g fill="#d2a84a" stroke="#7a5a20" stroke-width="1.2"><circle cx="1582" cy="1120" r="8"/><circle cx="1639" cy="1120" r="8"/><circle cx="1697" cy="1120" r="8"/><circle cx="1753" cy="1120" r="8"/></g>
<g fill="#efe8d8"><circle cx="1582" cy="1120" r="3"/><circle cx="1639" cy="1120" r="3"/><circle cx="1697" cy="1120" r="3"/><circle cx="1753" cy="1120" r="3"/></g>
<rect x="1568" y="1105" width="5" height="5" fill="#e8d040"/><rect x="1626" y="1105" width="5" height="5" fill="#6ad050"/><rect x="1684" y="1105" width="5" height="5" fill="#5ab0e8"/><rect x="1741" y="1105" width="5" height="5" fill="#e04040"/>
<circle cx="1775" cy="1113" r="5" fill="#ddd" stroke="#333" stroke-width="2"/>
<rect x="1770" y="1127" width="10" height="10" fill="#e8c830"/>
<line x1="1581" y1="1126" x2="1581" y2="1158" stroke="#f0a818" stroke-width="2"/>
<line x1="1640" y1="1126" x2="1640" y2="1158" stroke="#7ac860" stroke-width="2"/>
<line x1="1753" y1="1126" x2="1753" y2="1158" stroke="#7ac860" stroke-width="2"/>
</g>

<!-- ============ ARROWS ============ -->
<g fill="#f1aaad">
<polygon points="1118,408 1167,438 1148,438 1148,469 1089,469 1089,438 1069,438"/>
<polygon points="980,467.7 968.3,482.7 986,497.3 949.3,542.7 931,529.3 919.3,544 931.7,490.7"/>
<polygon points="1257.3,467.7 1306,490.7 1317.3,543.3 1306.7,529.3 1288.3,542.7 1251.7,497.3 1269.3,482.7"/>
<polygon points="884,645 889.3,663.3 905.7,660.7 919.3,718.3 902.7,721.3 906.7,740 879,697.7"/>
<polygon points="1351.7,644 1357.7,695 1330.7,738.3 1334.7,720.7 1318.7,716.7 1331.7,659 1348,662"/>
<polygon points="1016,786 1069,811.7 1057.3,836 1075,844.3 1019.3,847.3 986,802 1004,810"/>
<polygon points="1169,812.3 1221.7,787 1234.3,812.7 1251.7,804.3 1220.7,850.7 1163.3,846.7 1181,838.7"/>
</g>

<!-- ============ CIRCLES ============ -->
<g fill="#fff">
<circle cx="1118" cy="248" r="134"/>
<circle cx="813" cy="395" r="134"/>
</g>
<g fill="url(#rg)">
<circle cx="1118" cy="248" r="124.5"/>
<circle cx="813" cy="395" r="124.5"/>
<circle cx="1425" cy="395" r="124.5"/>
<ellipse cx="1118" cy="640" rx="196" ry="140"/>
<circle cx="735" cy="731" r="124.5"/>
<circle cx="1501" cy="727" r="124.5"/>
<ellipse cx="949" cy="993" rx="166" ry="124.5"/>
<circle cx="1288.5" cy="993" r="124.5"/>
</g>

<!-- ============ LABELS ============ -->
<text class="t" x="1118" y="237">Logic /</text>
<text class="t" x="1118" y="287">Protocol</text>
<text class="t" x="813" y="384">Power</text>
<text class="t" x="813" y="435">Integrity</text>
<text class="t" x="1424" y="409">Probing</text>
<text class="t" x="1118" y="620">DDR</text>
<text class="t" x="1118" y="688">Methodology</text>
<text class="t" x="736" y="743">Rx Test</text>
<text class="t" x="1501" y="705">Test</text>
<text class="t" x="1501" y="774">Fixtures</text>
<text class="t" x="949" y="947">Modeling</text>
<text class="t" x="949" y="996">and</text>
<text class="t" x="949" y="1065">Simulation</text>
<text class="t" x="1289" y="1007">Tx Test</text>
</svg>
</body></html>
